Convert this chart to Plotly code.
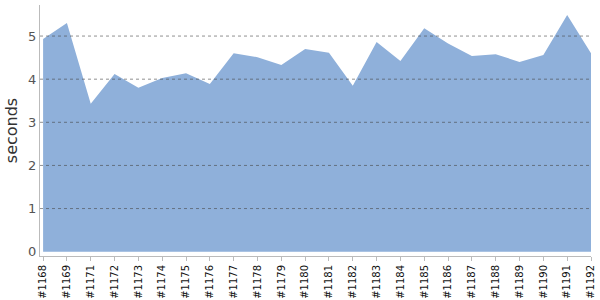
import plotly.graph_objects as go

builds = ["#1168", "#1169", "#1171", "#1172", "#1173", "#1174", "#1175", "#1176",
          "#1177", "#1178", "#1179", "#1180", "#1181", "#1182", "#1183", "#1184",
          "#1185", "#1186", "#1187", "#1188", "#1189", "#1190", "#1191", "#1192"]
seconds = [4.93, 5.30, 3.43, 4.12, 3.80, 4.03, 4.14, 3.89,
           4.60, 4.51, 4.33, 4.70, 4.61, 3.85, 4.86, 4.42,
           5.18, 4.83, 4.54, 4.58, 4.40, 4.56, 5.49, 4.60]
grid_values = [1, 2, 3, 4, 5]

x_idx = list(range(len(builds)))

fig = go.Figure()
fig.add_trace(go.Scatter(
    x=x_idx, y=seconds, mode="lines", fill="tozeroy",
    line=dict(width=0, color="rgb(143,176,218)"),
    fillcolor="rgb(143,176,218)", hoverinfo="skip", showlegend=False,
))

for g in grid_values:
    fig.add_shape(type="line", xref="paper", x0=0, x1=1, yref="y", y0=g, y1=g,
                  line=dict(color="rgba(70,70,70,0.6)", width=1, dash="dot"),
                  layer="above")

fig.update_layout(
    width=600, height=300,
    margin=dict(l=40, r=9, t=5, b=44),
    paper_bgcolor="white", plot_bgcolor="white",
    font=dict(family="DejaVu Sans", color="#444"),
    xaxis=dict(
        range=[-0.13, 23.0], tickmode="array", tickvals=x_idx, ticktext=builds,
        tickangle=-90, tickfont=dict(size=10, color="#111"),
        showgrid=False, zeroline=False, showline=True, linecolor="#bbb",
        ticks="outside", ticklen=4, tickcolor="#bbb", automargin=False,
    ),
    yaxis=dict(
        range=[-0.1, 5.72], tickvals=[0, 1, 2, 3, 4, 5],
        tickfont=dict(size=13, color="#555"),
        showgrid=False, zeroline=False, showline=True, linecolor="#bbb",
        automargin=False,
        title=dict(text="seconds", font=dict(size=16, color="#333"), standoff=6),
    ),
)

fig.write_html("out.html")
